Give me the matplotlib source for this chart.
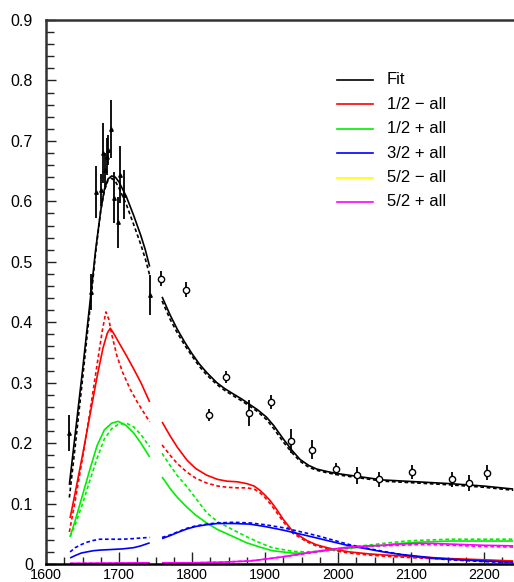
import matplotlib
matplotlib.use("Agg")
import matplotlib.pyplot as plt
from matplotlib.ticker import MultipleLocator, FuncFormatter, FixedLocator

plt.rcParams['font.family'] = ['Liberation Sans', 'DejaVu Sans']

# ---- measured points: low-energy set (triangles) ----
d1_x = [1631, 1662, 1669, 1675, 1678, 1681, 1683, 1685, 1689, 1693, 1698, 1701, 1707, 1742]
d1_y = [0.217, 0.450, 0.616, 0.619, 0.680, 0.652, 0.674, 0.685, 0.720, 0.606, 0.565, 0.644, 0.611, 0.445]
d1_e = [0.030, 0.030, 0.043, 0.027, 0.050, 0.028, 0.031, 0.025, 0.048, 0.042, 0.042, 0.047, 0.041, 0.033]

# ---- measured points: high-energy set (open circles) ----
d2_x = [1758, 1792, 1823, 1846, 1878, 1908, 1936, 1964, 1997, 2026, 2056, 2101, 2156, 2179, 2204]
d2_y = [0.472, 0.454, 0.247, 0.310, 0.250, 0.268, 0.203, 0.189, 0.157, 0.147, 0.140, 0.152, 0.140, 0.134, 0.151]
d2_e = [0.012, 0.012, 0.010, 0.010, 0.022, 0.012, 0.020, 0.016, 0.010, 0.014, 0.012, 0.012, 0.012, 0.014, 0.012]

# ---- fit curves, lower branch (solid / dashed) ----
fit_lo_x = [1632, 1640, 1650, 1660, 1668, 1675, 1680, 1685, 1690, 1695, 1700, 1710, 1720, 1730, 1736, 1742]
fit_lo = [0.131, 0.215, 0.320, 0.430, 0.520, 0.585, 0.620, 0.637, 0.642, 0.640, 0.632, 0.608, 0.577, 0.543, 0.520, 0.492]
fit_lo_d = [0.110, 0.195, 0.305, 0.420, 0.515, 0.585, 0.618, 0.635, 0.638, 0.633, 0.622, 0.595, 0.562, 0.528, 0.505, 0.478]

s1m_lo_x = [1633, 1640, 1650, 1660, 1670, 1678, 1684, 1688, 1692, 1700, 1710, 1720, 1730, 1742]
s1m_lo = [0.076, 0.118, 0.180, 0.245, 0.310, 0.357, 0.382, 0.390, 0.383, 0.366, 0.345, 0.323, 0.300, 0.268]
s1m_lo_dx = [1632, 1640, 1650, 1660, 1670, 1677, 1682, 1686, 1690, 1697, 1705, 1715, 1725, 1742]
s1m_lo_d = [0.053, 0.105, 0.175, 0.250, 0.330, 0.385, 0.417, 0.405, 0.380, 0.345, 0.317, 0.290, 0.268, 0.235]

s1p_lo_x = [1633, 1640, 1651, 1660, 1670, 1680, 1690, 1699, 1710, 1720, 1730, 1742]
s1p_lo = [0.045, 0.072, 0.118, 0.156, 0.196, 0.222, 0.233, 0.236, 0.229, 0.217, 0.200, 0.177]
s1p_lo_d = [0.045, 0.065, 0.103, 0.138, 0.175, 0.207, 0.224, 0.231, 0.233, 0.227, 0.214, 0.194]

s3p_lo_x = [1633, 1640, 1648, 1656, 1665, 1674, 1690, 1705, 1720, 1730, 1742]
s3p_lo = [0.010, 0.014, 0.018, 0.020, 0.022, 0.023, 0.024, 0.025, 0.027, 0.030, 0.035]
s3p_lo_d = [0.020, 0.027, 0.032, 0.036, 0.039, 0.041, 0.041, 0.041, 0.042, 0.043, 0.044]

s5_lo_x = [1633, 1742]
s5m_lo = [0.0005, 0.0005]
s5p_lo = [0.001, 0.002]

# ---- fit curves, upper branch (solid / dashed) ----
fit_hi_x = [1759, 1770, 1780, 1790, 1800, 1810, 1820, 1834, 1845, 1857, 1868, 1879, 1890, 1902,
            1912, 1925, 1937, 1948, 1960, 1971, 1985, 1997, 2026, 2062, 2108, 2153, 2199, 2240]
fit_hi = [0.442, 0.412, 0.388, 0.367, 0.348, 0.331, 0.317, 0.300, 0.290, 0.281, 0.273, 0.264, 0.255, 0.243,
          0.229, 0.207, 0.188, 0.173, 0.163, 0.157, 0.153, 0.150, 0.145, 0.139, 0.136, 0.133, 0.129, 0.124]
fit_hi_d = [0.435, 0.405, 0.382, 0.362, 0.344, 0.327, 0.313, 0.297, 0.287, 0.278, 0.270, 0.261, 0.252, 0.239,
            0.224, 0.202, 0.184, 0.170, 0.160, 0.155, 0.151, 0.148, 0.143, 0.137, 0.134, 0.131, 0.127, 0.122]

s1m_hi_x = [1759, 1770, 1780, 1793, 1805, 1820, 1835, 1848, 1862, 1875, 1885, 1893, 1900, 1907,
            1915, 1925, 1938, 1957, 1970, 1985, 2000, 2016, 2040, 2062, 2108, 2153, 2199, 2240]
s1m_hi = [0.235, 0.212, 0.193, 0.172, 0.158, 0.147, 0.140, 0.137, 0.136, 0.133, 0.129, 0.122, 0.114, 0.105,
          0.092, 0.074, 0.054, 0.039, 0.032, 0.027, 0.023, 0.020, 0.017, 0.015, 0.012, 0.009, 0.007, 0.005]
s1m_hi_d = [0.197, 0.180, 0.166, 0.152, 0.142, 0.134, 0.129, 0.127, 0.126, 0.126, 0.124, 0.118, 0.110, 0.100,
            0.087, 0.070, 0.051, 0.037, 0.030, 0.025, 0.021, 0.018, 0.015, 0.013, 0.010, 0.008, 0.006, 0.004]

s1p_hi_x = [1759, 1770, 1780, 1793, 1805, 1820, 1835, 1857, 1875, 1893, 1910, 1938, 1955, 1971,
            1990, 2016, 2040, 2062, 2085, 2108, 2130, 2153, 2199, 2240]
s1p_hi = [0.144, 0.125, 0.110, 0.094, 0.081, 0.068, 0.057, 0.045, 0.035, 0.028, 0.022, 0.018, 0.018, 0.020,
          0.023, 0.026, 0.029, 0.031, 0.034, 0.036, 0.037, 0.038, 0.038, 0.038]
s1p_hi_d = [0.183, 0.163, 0.146, 0.128, 0.109, 0.085, 0.070, 0.056, 0.045, 0.035, 0.027, 0.021, 0.020, 0.021,
            0.024, 0.028, 0.031, 0.034, 0.037, 0.039, 0.040, 0.041, 0.041, 0.041]

s3p_hi_x = [1759, 1770, 1780, 1793, 1805, 1820, 1835, 1857, 1879, 1900, 1925, 1950, 1971, 1995,
            2016, 2040, 2062, 2085, 2108, 2130, 2153, 2199, 2240]
s3p_hi = [0.042, 0.047, 0.052, 0.058, 0.062, 0.065, 0.067, 0.067, 0.066, 0.062, 0.056, 0.049, 0.043, 0.036,
          0.030, 0.025, 0.020, 0.016, 0.013, 0.010, 0.008, 0.005, 0.003]
s3p_hi_d = [0.044, 0.048, 0.053, 0.059, 0.063, 0.066, 0.068, 0.069, 0.068, 0.065, 0.060, 0.053, 0.047, 0.039,
            0.032, 0.026, 0.021, 0.016, 0.012, 0.009, 0.007, 0.004, 0.002]

s5_hi_x = [1759, 1800, 1840, 1879, 1900, 1925, 1950, 1971, 1995, 2016, 2040, 2062, 2085, 2108, 2130, 2153, 2199, 2240]
s5m_hi = [0.0005] * len(s5_hi_x)
s5p_hi = [0.002, 0.002, 0.003, 0.005, 0.008, 0.012, 0.017, 0.021, 0.025, 0.028, 0.030, 0.031, 0.033, 0.034,
          0.034, 0.033, 0.031, 0.030]
s5p_hi_d = [0.002, 0.002, 0.003, 0.005, 0.008, 0.012, 0.016, 0.020, 0.024, 0.027, 0.029, 0.030, 0.031, 0.032,
            0.032, 0.031, 0.029, 0.028]

legend_labels = ["Fit", "1/2 \u2212 all", "1/2 + all", "3/2 + all", "5/2 \u2212 all", "5/2 + all"]
colors = ["black", "#ff0000", "#00ee00", "#0000ff", "#ffff00", "#ff00ff"]

W, H = 514, 582
fig = plt.figure(figsize=(W / 100, H / 100), dpi=100)
ax = fig.add_axes([46 / W, 18 / H, 468 / W, 544 / H])

LW = 1.2
DASH = (0, (2.2, 1.6))

curves = [
    (colors[0], [(fit_lo_x, fit_lo, fit_lo_d), (fit_hi_x, fit_hi, fit_hi_d)]),
    (colors[1], [(s1m_lo_x, s1m_lo, None), (s1m_hi_x, s1m_hi, s1m_hi_d)]),
    (colors[2], [(s1p_lo_x, s1p_lo, s1p_lo_d), (s1p_hi_x, s1p_hi, s1p_hi_d)]),
    (colors[3], [(s3p_lo_x, s3p_lo, s3p_lo_d), (s3p_hi_x, s3p_hi, s3p_hi_d)]),
    (colors[4], [(s5_lo_x, s5m_lo, s5m_lo), (s5_hi_x, s5m_hi, s5m_hi)]),
    (colors[5], [(s5_lo_x, s5p_lo, s5p_lo), (s5_hi_x, s5p_hi, s5p_hi_d)]),
]
for col, segs in curves:
    for xs, ys, yd in segs:
        ax.plot(xs, ys, color=col, lw=LW, solid_capstyle='butt')
        if yd is not None:
            ax.plot(xs, yd, color=col, lw=LW, linestyle=DASH)
# red dashed lower branch has its own x grid
ax.plot(s1m_lo_dx, s1m_lo_d, color=colors[1], lw=LW, linestyle=DASH)

ax.errorbar(d1_x, d1_y, yerr=d1_e, fmt='^', ms=2.5, color='black', mfc='black',
            elinewidth=1.3, capsize=0, zorder=5)
ax.errorbar(d2_x, d2_y, yerr=d2_e, fmt='o', ms=4.5, color='black', mfc='white',
            mew=1.0, elinewidth=1.3, capsize=0, zorder=5)

ax.set_xlim(1600, 1600 + 468 / 0.73)
ax.set_ylim(0, 0.9)

ax.xaxis.set_major_locator(FixedLocator([1600, 1700, 1800, 1900, 2000, 2100, 2200]))
ax.xaxis.set_minor_locator(MultipleLocator(25))
ax.yaxis.set_major_locator(MultipleLocator(0.1))
ax.yaxis.set_minor_locator(MultipleLocator(0.02))
ax.yaxis.set_major_formatter(FuncFormatter(lambda v, p: "0" if abs(v) < 1e-9 else f"{v:.1f}"))
ax.xaxis.set_major_formatter(FuncFormatter(lambda v, p: f"{v:.0f}"))

ax.tick_params(axis='both', which='both', direction='in', width=1.0, colors='#222222',
               labelcolor='black')
ax.tick_params(axis='x', which='major', length=9, pad=3.2, labelsize=10.4)
ax.tick_params(axis='x', which='minor', length=5)
ax.tick_params(axis='y', which='major', length=7, pad=9.5, labelsize=11.5)
ax.tick_params(axis='y', which='minor', length=6)

ax.spines['right'].set_visible(False)
for s in ('left', 'top', 'bottom'):
    ax.spines[s].set_linewidth(1.8)
    ax.spines[s].set_color('#333333')
ax.spines['bottom'].set_color('black')

# legend box drawn in axes coordinates
y0 = (564 - 80) / 544
dy = 24.4 / 544
for i, (lab, col) in enumerate(zip(legend_labels, colors)):
    yy = y0 - i * dy
    ax.plot([(337 - 46) / 468, (373 - 46) / 468], [yy, yy], color=col, lw=1.2,
            transform=ax.transAxes, clip_on=False)
    ax.text((387 - 46) / 468, yy, lab, transform=ax.transAxes, fontsize=12,
            va='center', ha='left')

fig.savefig("out.png", dpi=100)
